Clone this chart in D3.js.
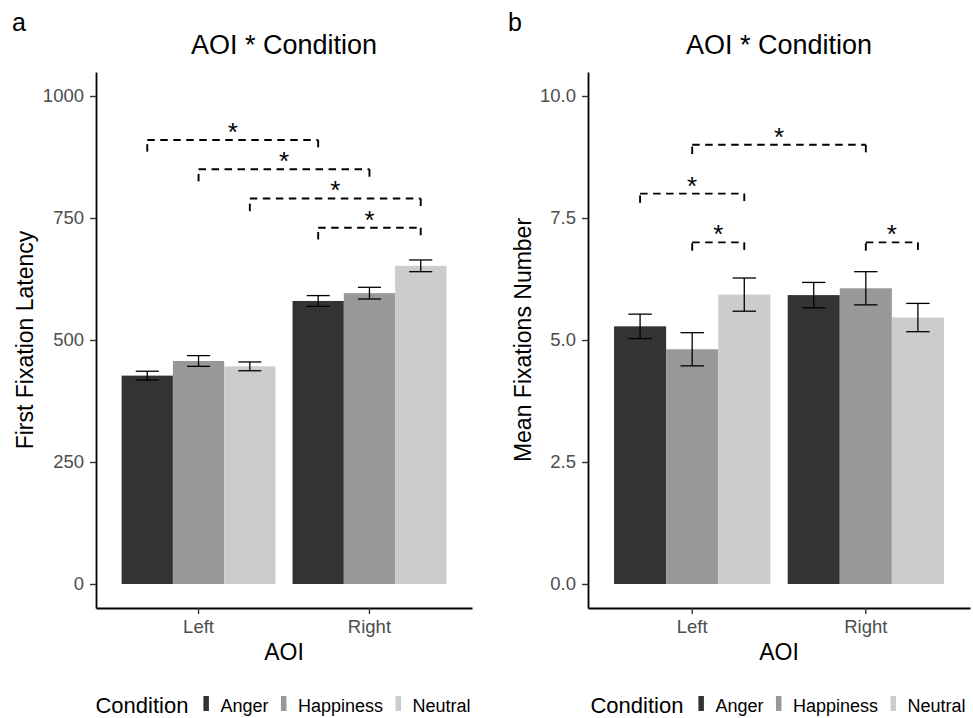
<!DOCTYPE html>
<html>
<head>
<meta charset="utf-8">
<script src="https://cdn.jsdelivr.net/npm/d3@7"></script>
<style>
  body { margin: 0; background: #fff; }
  svg { display: block; font-family: "Liberation Sans", Arial, sans-serif; }
</style>
</head>
<body>
<div id="chart"></div>
<script>
// ---------------- data ----------------
const aoi = ["Left", "Right"];
const conditions = ["Anger", "Happiness", "Neutral"];
const fillColors = ["#333333", "#989898", "#CCCCCC"];

// means / standard errors, one row per AOI, one column per condition
const latencyMean = [[427, 457, 446], [580, 596, 652]];
const latencySE   = [[9, 11, 9], [11, 12, 12]];
const fixMean     = [[5.28, 4.81, 5.93], [5.92, 6.06, 5.46]];
const fixSE       = [[0.25, 0.34, 0.34], [0.26, 0.34, 0.29]];

const latencyTicks = [0, 250, 500, 750, 1000];
const fixTicks = [0, 2.5, 5, 7.5, 10];

// significance brackets: from/to = [aoi, condition], level in data units, tip lengths in data units
const latencySig = [
  { from: ["Left", "Anger"],     to: ["Right", "Anger"],     y: 910, tip: [24, 16] },
  { from: ["Left", "Happiness"], to: ["Right", "Happiness"], y: 850, tip: [25, 16] },
  { from: ["Left", "Neutral"],   to: ["Right", "Neutral"],   y: 790, tip: [26, 16] },
  { from: ["Right", "Anger"],    to: ["Right", "Neutral"],   y: 730, tip: [24, 16] }
];
const fixSig = [
  { from: ["Left", "Happiness"],  to: ["Right", "Happiness"], y: 9.0, tip: [0.19, 0.18] },
  { from: ["Left", "Anger"],      to: ["Left", "Neutral"],    y: 8.0, tip: [0.19, 0.17] },
  { from: ["Left", "Happiness"],  to: ["Left", "Neutral"],    y: 7.0, tip: [0.17, 0.17] },
  { from: ["Right", "Happiness"], to: ["Right", "Neutral"],   y: 7.0, tip: [0.17, 0.17] }
];

// ---------------- drawing ----------------
const W = 973, H = 718;
const svg = d3.select("#chart").append("svg")
  .attr("width", W).attr("height", H);

function drawPanel(cfg) {
  const x = d3.scaleBand()
    .domain(aoi)
    .range([cfg.left, cfg.right])
    .paddingInner(0.1)
    .paddingOuter(0.15);
  const xSub = d3.scaleBand()
    .domain(conditions)
    .range([0, x.bandwidth()]);
  const y = d3.scaleLinear()
    .domain(cfg.yDomain)
    .range([608, 72]);
  const color = d3.scaleOrdinal(conditions, fillColors);

  const rows = [];
  aoi.forEach((a, i) => conditions.forEach((c, j) => {
    rows.push({ aoi: a, cond: c, mean: cfg.mean[i][j], se: cfg.se[i][j] });
  }));

  const g = svg.append("g");

  // bars
  g.selectAll("rect.bar")
    .data(rows)
    .enter().append("rect")
      .attr("class", "bar")
      .attr("x", d => x(d.aoi) + xSub(d.cond))
      .attr("width", xSub.bandwidth())
      .attr("y", d => y(d.mean))
      .attr("height", d => y(0) - y(d.mean))
      .attr("fill", d => color(d.cond));

  // error bars
  const capW = xSub.bandwidth() * 0.45;
  const eb = g.selectAll("g.err")
    .data(rows)
    .enter().append("g")
      .attr("class", "err")
      .attr("stroke", "#000")
      .attr("stroke-width", 1.3)
      .attr("fill", "none");
  const cx = d => x(d.aoi) + xSub(d.cond) + xSub.bandwidth() / 2;
  eb.append("line")
    .attr("x1", cx).attr("x2", cx)
    .attr("y1", d => y(d.mean - d.se)).attr("y2", d => y(d.mean + d.se));
  eb.append("line")
    .attr("x1", d => cx(d) - capW / 2).attr("x2", d => cx(d) + capW / 2)
    .attr("y1", d => y(d.mean + d.se)).attr("y2", d => y(d.mean + d.se));
  eb.append("line")
    .attr("x1", d => cx(d) - capW / 2).attr("x2", d => cx(d) + capW / 2)
    .attr("y1", d => y(d.mean - d.se)).attr("y2", d => y(d.mean - d.se));

  // significance brackets
  const pos = p => x(p[0]) + xSub(p[1]) + xSub.bandwidth() / 2;
  const dash = "7.5,5.5";
  const sig = g.selectAll("g.sig")
    .data(cfg.sig)
    .enter().append("g")
      .attr("class", "sig")
      .attr("stroke", "#000")
      .attr("stroke-width", 1.9)
      .attr("stroke-dasharray", dash);
  sig.append("line")
    .attr("x1", d => pos(d.from)).attr("x2", d => pos(d.from))
    .attr("y1", d => y(d.y - d.tip[0])).attr("y2", d => y(d.y));
  sig.append("line")
    .attr("x1", d => pos(d.from)).attr("x2", d => pos(d.to))
    .attr("y1", d => y(d.y)).attr("y2", d => y(d.y));
  sig.append("line")
    .attr("x1", d => pos(d.to)).attr("x2", d => pos(d.to))
    .attr("y1", d => y(d.y)).attr("y2", d => y(d.y - d.tip[1]));
  g.selectAll("text.star")
    .data(cfg.sig)
    .enter().append("text")
      .attr("class", "star")
      .attr("x", d => (pos(d.from) + pos(d.to)) / 2)
      .attr("y", d => y(d.y) + 1)
      .attr("text-anchor", "middle")
      .attr("font-size", 26)
      .attr("fill", "#000")
      .text("*");

  // axes
  const yAxis = d3.axisLeft(y)
    .tickValues(cfg.ticks)
    .tickFormat(cfg.fmt)
    .tickSize(6)
    .tickSizeOuter(0)
    .tickPadding(6);
  const xAxis = d3.axisBottom(x)
    .tickSize(6)
    .tickSizeOuter(0)
    .tickPadding(6);

  const ya = g.append("g")
    .attr("transform", `translate(${cfg.left},0)`)
    .call(yAxis);
  const xa = g.append("g")
    .attr("transform", `translate(0,608)`)
    .call(xAxis);
  [ya, xa].forEach(a => {
    a.select(".domain").attr("stroke", "#000").attr("stroke-width", 1.8);
    a.selectAll(".tick line").attr("stroke", "#333").attr("stroke-width", 1.4);
    a.selectAll(".tick text")
      .attr("fill", "#4D4D4D")
      .attr("font-size", 18.5)
      .attr("font-family", "Liberation Sans, Arial, sans-serif");
  });

  const mid = (cfg.left + cfg.right) / 2;

  // titles
  g.append("text")
    .attr("x", mid).attr("y", 54)
    .attr("text-anchor", "middle")
    .attr("font-size", 27)
    .text("AOI * Condition");
  g.append("text")
    .attr("x", cfg.letterX).attr("y", 31)
    .attr("font-size", 25)
    .text(cfg.letter);
  g.append("text")
    .attr("x", mid).attr("y", 660)
    .attr("text-anchor", "middle")
    .attr("font-size", 23)
    .text("AOI");
  g.append("text")
    .attr("transform", `translate(${cfg.yTitleX},${(72 + 608) / 2}) rotate(-90)`)
    .attr("text-anchor", "middle")
    .attr("font-size", 23)
    .text(cfg.yTitle);

  // legend (centred under the plot area)
  const leg = g.append("g");
  let cursor = 0;
  const title = leg.append("text")
    .attr("x", 0).attr("y", 713)
    .attr("font-size", 22)
    .text("Condition");
  cursor += title.node().getComputedTextLength() + 15;
  conditions.forEach((c, i) => {
    leg.append("rect")
      .attr("x", cursor).attr("y", 696)
      .attr("width", 5.5).attr("height", 15)
      .attr("fill", color(c));
    cursor += 5.5 + 11.5;
    const t = leg.append("text")
      .attr("x", cursor).attr("y", 712)
      .attr("font-size", 18)
      .text(c);
    cursor += t.node().getComputedTextLength();
    if (i < conditions.length - 1) cursor += 12.5;
  });
  leg.attr("transform", `translate(${mid - cursor / 2 - 1},0)`);
}

drawPanel({
  left: 96, right: 472,
  yDomain: [-49.2, 1049.2],
  mean: latencyMean, se: latencySE,
  ticks: latencyTicks, fmt: d3.format("d"),
  sig: latencySig,
  letter: "a", letterX: 12,
  yTitle: "First Fixation Latency", yTitleX: 33
});
drawPanel({
  left: 588, right: 970,
  yDomain: [-0.492, 10.492],
  mean: fixMean, se: fixSE,
  ticks: fixTicks, fmt: d3.format(".1f"),
  sig: fixSig,
  letter: "b", letterX: 508,
  yTitle: "Mean Fixations Number", yTitleX: 531
});
</script>
</body>
</html>
